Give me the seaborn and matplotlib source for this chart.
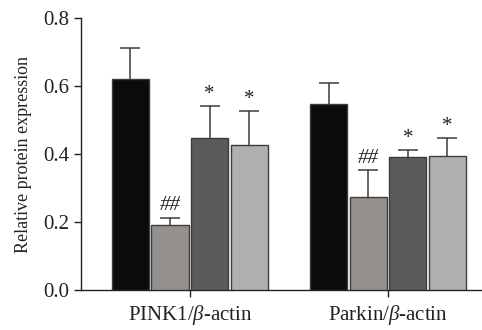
import numpy as np
import pandas as pd
import matplotlib
matplotlib.use("Agg")
import matplotlib.pyplot as plt
import seaborn as sns

# values
markers = [r"PINK1/$\beta$-actin", r"Parkin/$\beta$-actin"]
groups = ["Control", "Model", "Treatment 1", "Treatment 2"]
means_pink1 = [0.620, 0.191, 0.448, 0.426]
means_parkin = [0.546, 0.274, 0.392, 0.395]
err_pink1 = [0.093, 0.021, 0.095, 0.102]
err_parkin = [0.062, 0.078, 0.021, 0.052]
signs_pink1 = ["", "##", "*", "*"]
signs_parkin = ["", "##", "*", "*"]
bar_colors = ["#0b0b0b", "#958f8d", "#5d5958", "#b0b0b2"]

sns.set_style("ticks")
plt.rcParams["font.family"] = ["Liberation Serif", "DejaVu Serif"]
plt.rcParams["mathtext.fontset"] = "custom"
plt.rcParams["mathtext.rm"] = "Liberation Serif"
plt.rcParams["mathtext.it"] = "Liberation Serif:italic"

df = pd.DataFrame({
    "marker": np.repeat(markers, len(groups)),
    "group": groups * len(markers),
    "value": means_pink1 + means_parkin,
    "err": err_pink1 + err_parkin,
    "sign": signs_pink1 + signs_parkin,
})

fig = plt.figure(figsize=(4.82, 3.30), dpi=100)
ax = fig.add_axes([0.168, 0.121, 0.832, 0.824])

sns.barplot(data=df, x="marker", y="value", hue="group", order=markers,
            hue_order=groups, palette=bar_colors, errorbar=None,
            gap=0.06, edgecolor="#3c3c3c", linewidth=1.0, legend=False,
            zorder=3, ax=ax)

# error bars (lower half hidden behind the bar) and significance marks
for patch_container, g in zip(ax.containers, groups):
    sub = df[df["group"] == g].set_index("marker").loc[markers]
    for patch, (_, row) in zip(patch_container.patches, sub.iterrows()):
        xc = patch.get_x() + patch.get_width() / 2
        top = patch.get_height()
        ax.errorbar(xc, top, yerr=row["err"], color="#3c3c3c",
                    elinewidth=1.1, capsize=7, capthick=1.1, zorder=2)
        if row["sign"] == "*":
            ax.text(xc, top + row["err"] + 0.005, "*", ha="center",
                    va="bottom", fontsize=15, color="#222222")
        elif row["sign"]:
            ax.text(xc, top + row["err"] + 0.008, row["sign"], ha="center",
                    va="bottom", fontsize=15, style="italic",
                    color="#222222")

ax.set_ylim(0, 0.8)
ax.set_xlim(-0.55, 1.475)
ax.set_yticks([0.0, 0.2, 0.4, 0.6, 0.8])
ax.set_yticklabels(["0.0", "0.2", "0.4", "0.6", "0.8"])
ax.set_xlabel("")
ax.set_ylabel("Relative protein expression", fontsize=13,
              color="#222222", labelpad=8)
ax.tick_params(axis="both", labelsize=15, length=5, width=1.0,
               colors="#222222", labelcolor="#222222")
ax.tick_params(axis="x", labelsize=15, pad=4)
for s in ["left", "bottom"]:
    ax.spines[s].set_color("#222222")
    ax.spines[s].set_linewidth(1.0)
sns.despine(ax=ax)

fig.savefig("out.png", dpi=100)
